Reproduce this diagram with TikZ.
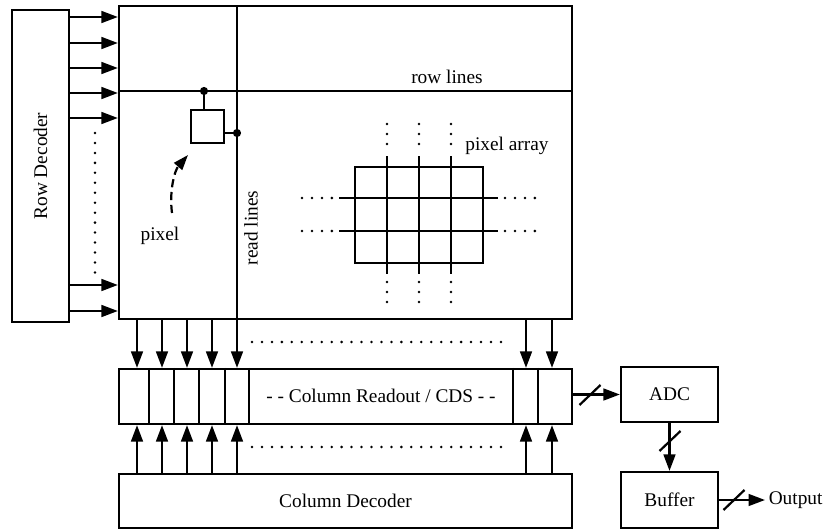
\documentclass[tikz,border=0pt]{standalone}
\usepackage{fontspec}
\setmainfont{Liberation Serif}
\usepackage{tikz}
\usetikzlibrary{arrows.meta, positioning, calc, fit}
\tikzset{
    box/.style = {rectangle, draw, line width=1.9pt, inner sep=0pt},
    cell/.style = {draw, line width=1.7pt},
    wire/.style = {draw, line width=1.9pt},
    arr/.style = {draw, line width=1.9pt, -{Triangle[length=14pt, width=10pt]}},
    dotline/.style = {draw, line width=2.4pt, dash pattern=on 0pt off 8.5pt, line cap=round},
    lbl/.style = {font=\fontsize{16.5}{19}\selectfont, inner sep=1pt},
    junction/.style = {circle, fill, inner sep=0pt, minimum size=7pt}
}
\newcommand{\busmark}[1]{\draw[line width=1.9pt] (#1) ++(-10.5,10) -- ++(21,-20);}

\begin{document}
\begin{tikzpicture}[x=0.03cm, y=-0.03cm]
        \useasboundingbox (0,0) rectangle (826,530);
        % Blocks
        \node [box, fit={(12,10) (69,322)}] (rowdec) {};
        \node [lbl, rotate=90] at (rowdec.center) {Row Decoder};
        \node [box, fit={(119,6) (572,319)}] (array) {};
        \node [box, fit={(119,369) (572,424)}] (readout) {};
        \node [lbl] at (381,396) {- - Column Readout / CDS - -};
        \node [box, fit={(119,474) (572,528)}] (coldec) {};
        \node [lbl] at (coldec.center) {Column Decoder};
        \node [box, fit={(621,367) (718,422)}] (adc) {};
        \node [lbl] at (adc.center) {ADC};
        \node [box, fit={(621,472) (718,528)}] (buffer) {};
        \node [lbl] at (buffer.center) {Buffer};
        
        % Row and read lines
        \coordinate (rowline) at (119,91);
        \coordinate (readline) at (237,6);
        \path [wire] (rowline) -- (rowline -| array.east);
        \path [wire] (readline) -- (readline |- array.south);
        \node [lbl] at (447,77) {row lines};
        \node [lbl, rotate=90] at (251,228) {read lines};
        
        % Row select arrows
        \foreach \y in {17,43,68,93,118,285,311}
            \path [arr] (rowdec.east |- 0,\y) -- (array.west |- 0,\y);
        \path [dotline] (95,133) -- (95,275);
        
        % Single pixel
        \node [box, minimum size=0.99cm] (pix) at (207.5,126.5) {};
        \node [junction] (rdot) at (204,91) {};
        \node [junction] (cdot) at (237,133) {};
        \path [wire] (rdot) -- (rdot |- pix.north);
        \path [wire] (cdot -| pix.east) -- (cdot);
        \node [lbl] (pixlbl) at (160,236) {pixel};
        \coordinate (pixtail) at (172,213);
        \draw [line width=1.9pt, dash pattern=on 7pt off 4pt, -{Triangle[length=13pt, width=9pt]}]
            (pixtail) .. controls (169,190) and (175,170) .. (188,155);
        
        % Pixel array grid
        \node [box, fit={(355,167) (483,263)}] (grid) {};
        \node [lbl] at (507,146) {pixel array};
        \foreach \x in {387,419,451} {
            \path [wire] (\x,156) -- (\x,274);
            \path [dotline] (\x,124) -- (\x,150);
            \path [dotline] (\x,282) -- (\x,304);
        }
        \foreach \y in {198,231} {
            \path [wire] (339,\y) -- (498,\y);
            \path [dotline] (302,\y) -- (333,\y);
            \path [dotline] (505,\y) -- (537,\y);
        }
        
        % Readout cells and column arrows
        \foreach \x in {149,174,199,225,249,513,538}
            \path [cell] (readout.north -| \x,0) -- (readout.south -| \x,0);
        \foreach \x in {137,162,187,212,237,526,552} {
            \path [arr] (array.south -| \x,0) -- (readout.north -| \x,0);
            \path [arr] (coldec.north -| \x,0) -- (readout.south -| \x,0);
        }
        \path [dotline] (252,342) -- (507,342);
        \path [dotline] (252,447) -- (507,447);
        
        % Output chain
        \path [arr] (readout.east |- adc.west) -- (adc.west);
        \busmark{590,395}
        \path [arr] (adc.south) -- (buffer.north);
        \busmark{670,441}
        \coordinate (outtip) at (765,500);
        \path [arr] (buffer.east |- outtip) -- (outtip);
        \busmark{734,500}
        \node [lbl, right=2pt of outtip] (output) {Output};
\end{tikzpicture}
\end{document}
